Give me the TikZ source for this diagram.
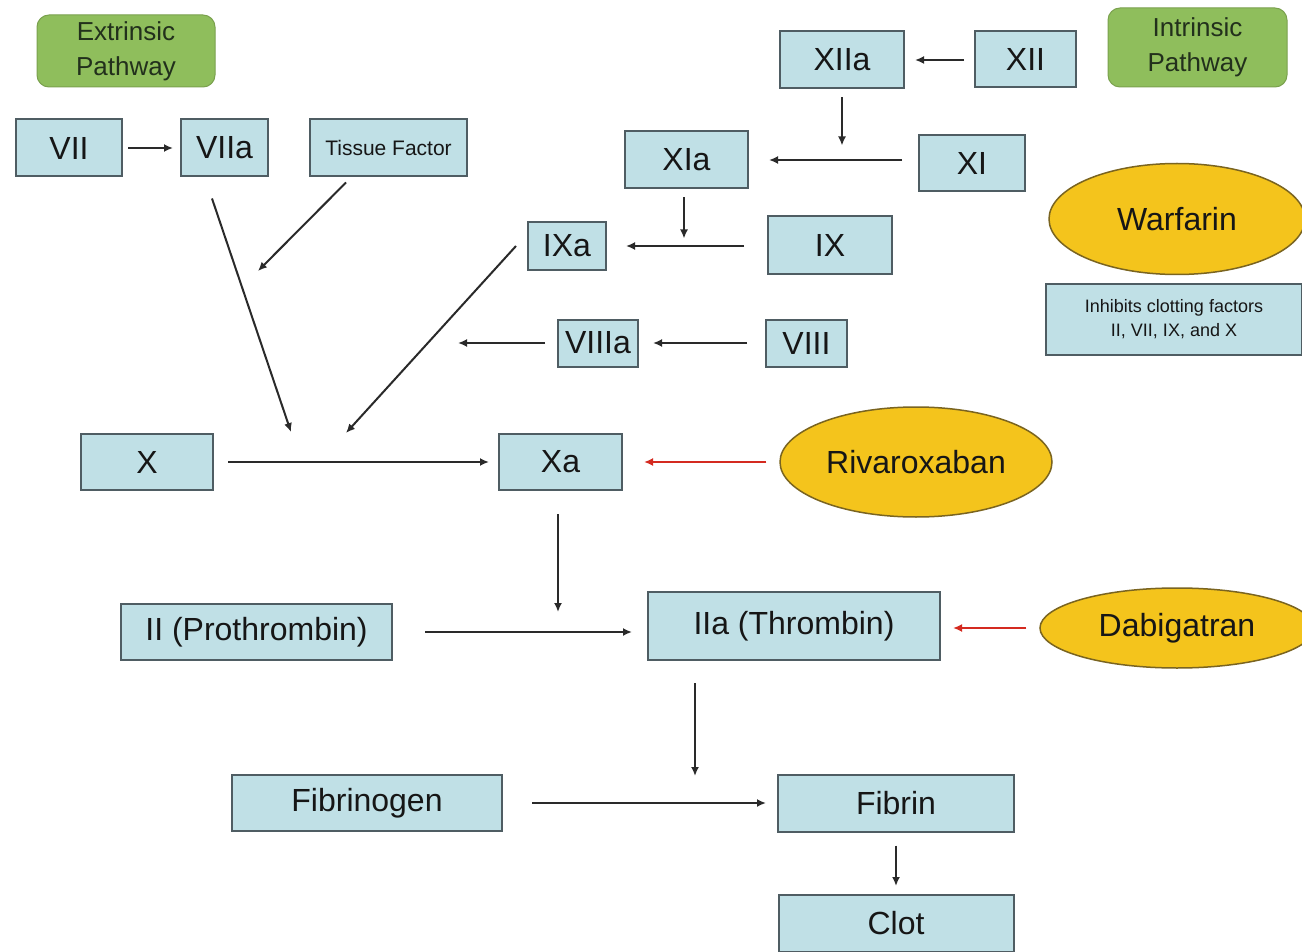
\documentclass[tikz,border=0pt]{standalone}
\usepackage{fontspec}
\setmainfont{Liberation Sans}
\usetikzlibrary{arrows.meta,shapes.geometric}

\definecolor{boxfill}{HTML}{C0E0E6}
\definecolor{boxline}{HTML}{4F5D63}
\definecolor{pathfill}{HTML}{8FBE5C}
\definecolor{drugfill}{HTML}{F4C41C}
\definecolor{drugline}{HTML}{7A6420}
\definecolor{ink}{HTML}{161616}
\definecolor{pathink}{HTML}{22301C}
\definecolor{arrowgray}{HTML}{2A2A2A}
\definecolor{inhibit}{HTML}{D42A20}

\tikzset{
  factor/.style={draw=boxline, fill=boxfill, line width=2pt, inner sep=0pt,
    text=ink, font=\fontsize{32}{38}\selectfont},
  pathway/.style={fill=pathfill, draw=pathfill!85!black, line width=1pt,
    rounded corners=12pt, align=center, inner sep=0pt, text=pathink,
    font=\fontsize{26}{35}\selectfont},
  drug/.style={ellipse, draw=drugline, fill=drugfill, line width=1.5pt,
    inner sep=0pt, text=ink, font=\fontsize{32}{38}\selectfont},
  flow/.style={draw=arrowgray, line width=2pt, -{Latex[length=9pt,width=8pt]}},
  block/.style={draw=inhibit, line width=2.2pt, -{Latex[length=9pt,width=8pt]}},
}

\begin{document}
\begin{tikzpicture}[x=1pt, y=-1pt]
\useasboundingbox (0,0) rectangle (1302,952);
\fill[white] (0,0) rectangle (1302,952);
\clip (0,0) rectangle (1302,952);

% pathway labels
\node[pathway, minimum width=178pt, minimum height=72pt] (ext) at (126,51) {Extrinsic\\Pathway};
\node[pathway, minimum width=179pt, minimum height=79pt] (int) at (1197.5,47.5) {Intrinsic\\Pathway};

% extrinsic factors
\node[factor, minimum width=106pt, minimum height=57pt] (vii)  at (69,148)  {VII};
\node[factor, minimum width=87pt,  minimum height=57pt] (viia) at (224.5,148) {VIIa};
\node[factor, minimum width=157pt, minimum height=57pt, font=\fontsize{21}{25}\selectfont] (tf) at (388.5,148) {Tissue Factor};

% intrinsic factors
\node[factor, minimum width=124pt, minimum height=57pt] (xiia) at (842,60)    {XIIa};
\node[factor, minimum width=101pt, minimum height=56pt] (xii)  at (1025.5,59) {XII};
\node[factor, minimum width=123pt, minimum height=57pt] (xia)  at (686.5,160) {XIa};
\node[factor, minimum width=106pt, minimum height=56pt] (xi)   at (972,163)   {XI};
\node[factor, minimum width=78pt,  minimum height=48pt] (ixa)  at (567,246)   {IXa};
\node[factor, minimum width=124pt, minimum height=58pt] (ix)   at (830,245)   {IX};
\node[factor, minimum width=80pt,  minimum height=47pt] (viiia) at (598,343) {VIIIa};
\node[factor, minimum width=81pt,  minimum height=47pt] (viii) at (806.5,343) {VIII};

% common pathway
\node[factor, minimum width=132pt, minimum height=56pt] (x)   at (147,462)   {X};
\node[factor, minimum width=123pt, minimum height=56pt] (xa)  at (560.5,462) {Xa};
\node[factor, minimum width=271pt, minimum height=56pt] (ii)  at (256.5,632) {II (Prothrombin)};
\node[factor, minimum width=292pt, minimum height=68pt] (iia) at (794,626)   {IIa (Thrombin)};
\node[factor, minimum width=270pt, minimum height=56pt] (fbg) at (367,803)   {Fibrinogen};
\node[factor, minimum width=236pt, minimum height=57pt] (fbn) at (896,803) {Fibrin};
\node[factor, minimum width=235pt, minimum height=57pt] (clot) at (896,923.5) {Clot};

% anticoagulants
\node[drug, minimum width=256pt, minimum height=111pt] (warf) at (1177,219) {Warfarin};
\node[factor, minimum width=256pt, minimum height=71pt, align=center,
      font=\fontsize{18}{24}\selectfont] (inh) at (1174,319.5)
      {Inhibits clotting factors\\II, VII, IX, and X};
\node[drug, minimum width=272pt, minimum height=110pt] (riva) at (916,462) {Rivaroxaban};
\node[drug, minimum width=274pt, minimum height=80pt]  (dabi) at (1177,628) {Dabigatran};

% free arrow ends pointing into the X activation step
\coordinate (viiaTip) at (291,432);
\coordinate (tfTip)   at (258,271);
\coordinate (ixaTip)  at (346,433);

% extrinsic arrows
\draw[flow] ([xshift=5pt]vii.east) -- ([xshift=-7pt]viia.west);
\draw[flow] ([shift={(-12.5pt,-21pt)}]viia.south) -- (viiaTip);
\draw[flow] ([shift={(-42.5pt,-5pt)}]tf.south) -- (tfTip);

% intrinsic arrows
\draw[flow] ([xshift=-10pt]xii.west |- xiia.east) -- ([xshift=10pt]xiia.east);
\draw[flow] ([yshift=-8pt]xiia.south) -- ([yshift=-56pt]xiia.south);
\draw[flow] ([xshift=-16pt]xi.west |- xia.east) -- ([xshift=20pt]xia.east);
\draw[flow] ([shift={(-2.5pt,-8pt)}]xia.south) -- ([shift={(-2.5pt,-49pt)}]xia.south);
\draw[flow] ([xshift=-23pt]ix.west |- ixa.east) -- ([xshift=19pt]ixa.east);
\draw[flow] ([xshift=-11pt]ixa.west) -- (ixaTip);
\draw[flow] ([xshift=-18pt]viii.west) -- ([xshift=14pt]viiia.east);
\draw[flow] ([xshift=-12pt]viiia.west) -- ([xshift=-99pt]viiia.west);

% common pathway arrows
\draw[flow] ([xshift=14pt]x.east) -- ([xshift=-9pt]xa.west);
\draw[flow] ([shift={(-2.5pt,-23pt)}]xa.south) -- ([shift={(-2.5pt,-121pt)}]xa.south);
\draw[flow] ([xshift=32pt]ii.east) -- ([xshift=-15pt]iia.west |- ii.east);
\draw[flow] ([shift={(-99pt,-22pt)}]iia.south) -- ([shift={(-99pt,-115pt)}]iia.south);
\draw[flow] ([xshift=29pt]fbg.east) -- ([xshift=-11pt]fbn.west |- fbg.east);
\draw[flow] ([yshift=-13pt]fbn.south) -- ([yshift=8pt]clot.north);

% inhibition by anticoagulants
\draw[block] ([xshift=-13pt]riva.west) -- ([xshift=21pt]xa.east);
\draw[block] ([xshift=-13pt]dabi.west) -- ([xshift=12pt]iia.east |- dabi.west);
\end{tikzpicture}
\end{document}
